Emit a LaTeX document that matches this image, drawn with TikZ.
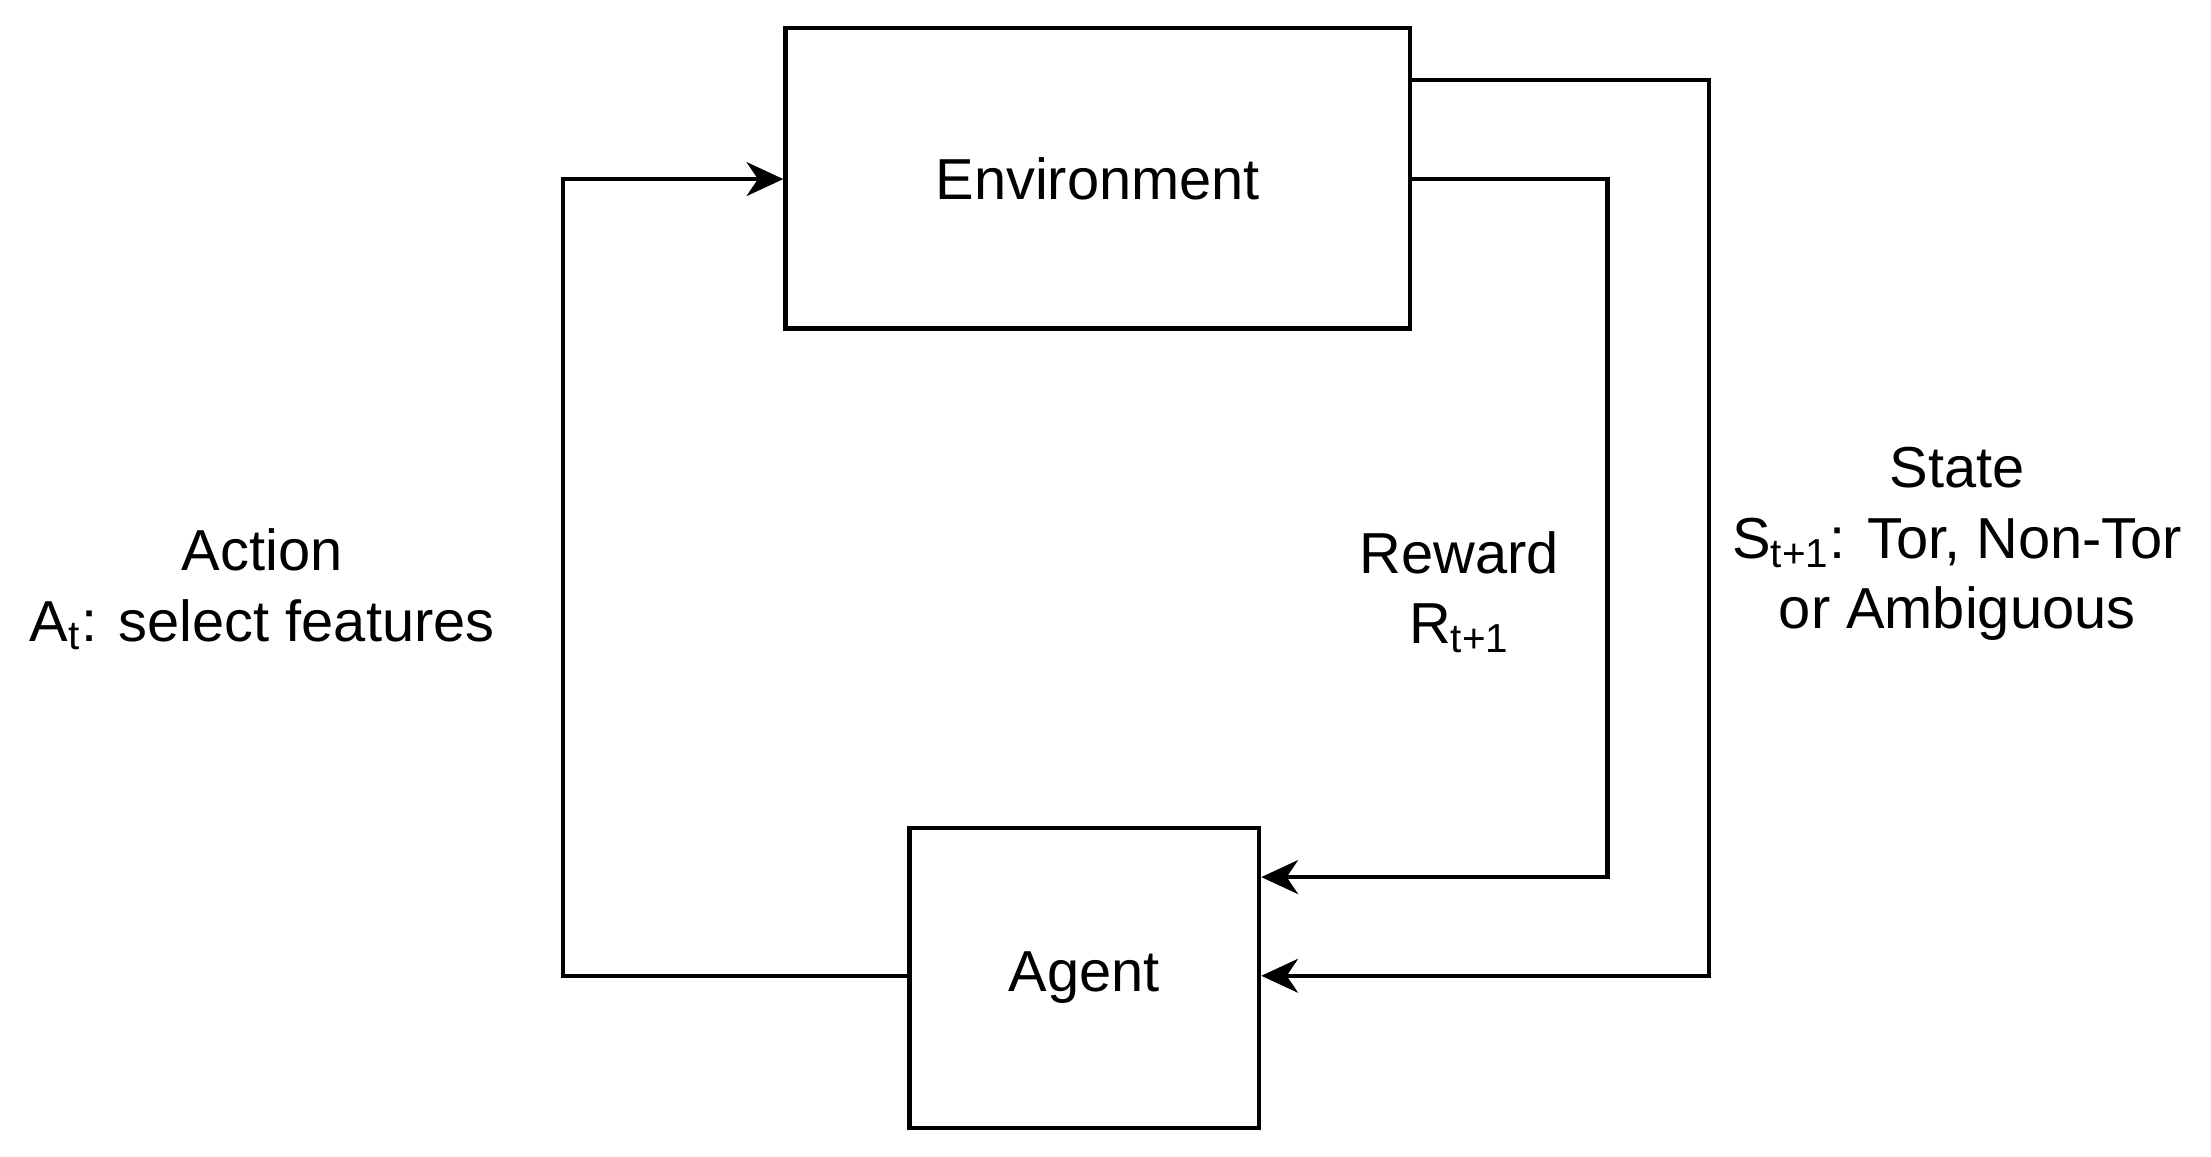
\documentclass[tikz,border=0pt]{standalone}
\usepackage{fontspec}
\setmainfont{Liberation Sans}
\usetikzlibrary{arrows.meta}
\begin{document}
\begin{tikzpicture}[x=0.5pt,y=-0.5pt,
  box/.style={draw,line width=1.5pt,inner sep=0pt},
  conn/.style={line width=1.5pt,-{Stealth[length=13pt,width=12pt,inset=4pt]}},
  lbl/.style={font=\fontsize{20.5}{25}\selectfont,align=center}]
\useasboundingbox (0,0) rectangle (1568,820);
\node[box,minimum width=221.5pt,minimum height=106.5pt,lbl] (env) at (778.5,126.5) {Environment};
\node[box,minimum width=124pt,minimum height=106.5pt,lbl] (agent) at (769,693.5) {Agent};
\coordinate (a1) at (399,692);
\coordinate (a2) at (399,127);
\coordinate (r1) at (1140,127);
\coordinate (r2) at (1140,622);
\coordinate (s1) at (1212,57);
\coordinate (s2) at (1212,692);
\draw[conn] (agent.west |- a1) -- (a1) -- (a2) -- (env.west |- a2);
\draw[conn] (env.east |- r1) -- (r1) -- (r2) -- (agent.east |- r2);
\draw[conn] (env.east |- s1) -- (s1) -- (s2) -- (agent.east |- s2);
\node[lbl] (al) at (186,418) {Action\\A\textsubscript{t}: select features};
\node[lbl] (rl) at (1035,420) {Reward\\R\textsubscript{t+1}};
\node[lbl] (sl) at (1388,386) {State\\S\textsubscript{t+1}: Tor, Non-Tor\\or Ambiguous};
\end{tikzpicture}
\end{document}
